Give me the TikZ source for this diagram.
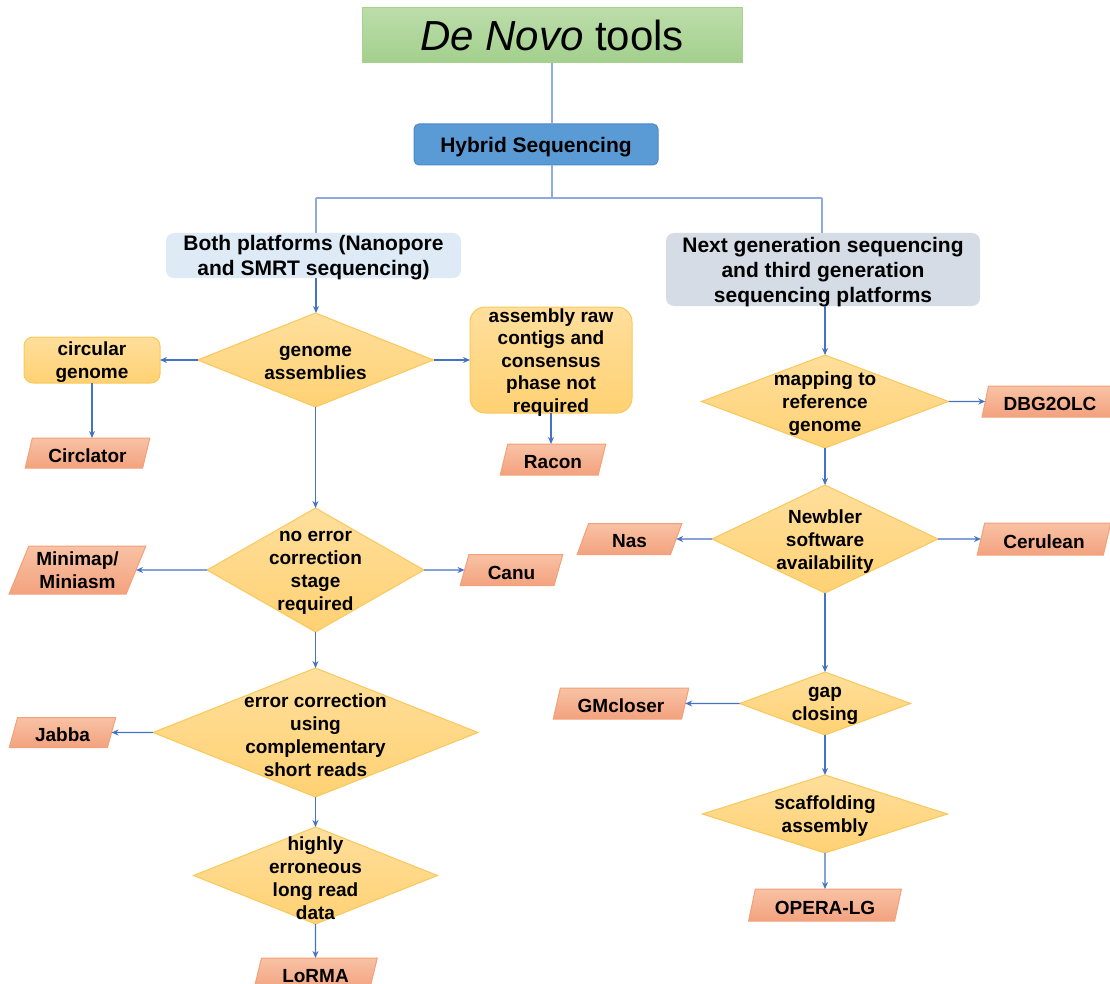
\documentclass[tikz,border=0pt]{standalone}
\usepackage{fontspec}
\setmainfont{Liberation Sans}
\usetikzlibrary{shapes.geometric,arrows.meta}
\definecolor{treeblue}{HTML}{8FAADC}
\definecolor{arrowblue}{HTML}{4472C4}
\definecolor{titletop}{HTML}{BCDDAA}
\definecolor{titlebot}{HTML}{A3CF8D}
\definecolor{titleborder}{HTML}{A9D18E}
\definecolor{hybfill}{HTML}{5B9BD5}
\definecolor{hybborder}{HTML}{4A89C8}
\definecolor{platone}{HTML}{DEEBF7}
\definecolor{plattwo}{HTML}{D6DCE5}
\definecolor{diatop}{HTML}{FFDF9C}
\definecolor{diabot}{HTML}{FFD173}
\definecolor{diaborder}{HTML}{F9C85A}
\definecolor{tooltop}{HTML}{F8C2A5}
\definecolor{toolbot}{HTML}{F3A27E}
\definecolor{toolborder}{HTML}{F2A179}
\newcommand{\lowertext}[1]{\raisebox{-2.5pt}[\height][\depth]{#1}}
\tikzset{
  conn/.style={draw=arrowblue, line width=1.3pt, -{Stealth[length=7pt,width=6pt]}},
  treeline/.style={draw=treeblue, line width=1.2pt},
  txt/.style={font=\bfseries\fontsize{19}{23}\selectfont, align=center, text=black, inner sep=0pt, yshift=-2.5pt},
  txtr/.style={font=\bfseries\fontsize{19}{22.5}\selectfont, align=center, text=black, inner sep=0pt, yshift=-2.5pt},
  bigtxt/.style={font=\bfseries\fontsize{21}{25}\selectfont, align=center, text=black, inner sep=0pt, yshift=-2.5pt},
  dia/.style={diamond, draw=diaborder, line width=1pt, top color=diatop, bottom color=diabot, inner sep=0pt, outer sep=0pt},
  toolbox/.style={trapezium, trapezium left angle=70, trapezium right angle=110, trapezium stretches=true,
    draw=toolborder, line width=1pt, top color=tooltop, bottom color=toolbot, inner sep=0pt, outer sep=0pt,
    font=\bfseries\fontsize{19}{23}\selectfont, align=center, text=black},
  rbox/.style={rectangle, rounded corners=9pt, draw=diaborder, line width=1pt, top color=diatop, bottom color=diabot,
    inner sep=0pt, outer sep=0pt},
  platbox/.style={rectangle, rounded corners=8pt, inner sep=0pt, outer sep=0pt},
}
\begin{document}
\begin{tikzpicture}[x=1pt,y=-1pt]
\useasboundingbox (0,0) rectangle (1110,984);
% title and top
\node[rectangle, draw=titleborder, line width=1pt, top color=titletop, bottom color=titlebot,
  minimum width=380pt, minimum height=55pt, inner sep=0pt, outer sep=0pt,
  font=\fontsize{42}{50}\selectfont] (title) at (552,35.5) {\textit{De Novo} tools};
\node[rectangle, rounded corners=5pt, draw=hybborder, line width=1pt, fill=hybfill,
  minimum width=244pt, minimum height=41pt, inner sep=0pt, outer sep=0pt,
  label={[bigtxt]center:Hybrid Sequencing}] (hyb) at (536,144.5) {};
\node[platbox, fill=platone, minimum width=295pt, minimum height=45pt,
  label={[bigtxt]center:{Both platforms (Nanopore\\and SMRT sequencing)}}] (platA) at (313.5,255.5) {};
\node[platbox, fill=plattwo, minimum width=314pt, minimum height=73pt,
  label={[bigtxt]center:{Next generation sequencing\\and third generation\\sequencing platforms}}] (platB) at (823,269.5) {};
\coordinate (j) at (552,198);
\coordinate (jl) at (316,198);
\coordinate (jr) at (822,198);
\draw[treeline] (title.south) -- (title.south |- hyb.north);
\draw[treeline] (hyb.south -| j) -- (j);
\draw[treeline] (jl) -- (jr);
\draw[treeline] (jl) -- (jl |- platA.north);
\draw[treeline] (jr) -- (jr |- platB.north);

% left column
\node[dia, minimum width=236pt, minimum height=94pt, label={[txt]center:{genome\\assemblies}}] (d1) at (315.5,360) {};
\node[rbox, minimum width=136pt, minimum height=46pt, label={[txt]center:{circular\\genome}}] (circ) at (92,360) {};
\node[rbox, rounded corners=15pt, minimum width=162pt, minimum height=106pt,
  label={[txtr]center:{assembly raw\\contigs and\\consensus\\phase not\\required}}] (raw) at (551,360) {};
\node[toolbox, minimum width=125pt, minimum height=30pt] (circlator) at (87.5,453) {\lowertext{Circlator}};
\node[toolbox, minimum width=106pt, minimum height=31pt] (racon) at (553,459.5) {\lowertext{Racon}};
\node[dia, minimum width=217pt, minimum height=124pt, label={[txt]center:{no error\\correction\\stage\\required}}] (d2) at (315.5,570) {};
\node[toolbox, minimum width=137pt, minimum height=48pt] (minimap) at (77.5,570)
  {\lowertext{\begin{tabular}{@{}c@{}}Minimap/\\Miniasm\end{tabular}}};
\node[toolbox, minimum width=103pt, minimum height=31pt] (canu) at (511.5,570) {\lowertext{Canu}};
\node[dia, minimum width=325pt, minimum height=129pt, label={[txt]center:{error correction\\using\\complementary\\short reads}}] (d3) at (315.5,732.5) {};
\node[toolbox, minimum width=107pt, minimum height=30pt] (jabba) at (62.5,732.5) {\lowertext{Jabba}};
\node[dia, minimum width=244pt, minimum height=97pt, label={[txt]center:{highly\\erroneous\\long read\\data}}] (d4) at (315.5,875.5) {};
\node[toolbox, minimum width=124pt, minimum height=32pt] (lorma) at (315.5,974) {\lowertext{LoRMA}};

\draw[conn] (platA.south -| jl) -- (d1.north -| jl);
\draw[conn] (d1.west) -- (circ.east);
\draw[conn] (d1.east) -- (raw.west);
\draw[conn] (circ.south) -- (circ.south |- circlator.north);
\draw[conn] (raw.south) -- (raw.south |- racon.north);
\draw[conn] (d1.south) -- (d2.north);
\draw[conn] (d2.west) -- (minimap.east);
\draw[conn] (d2.east) -- (canu.west);
\draw[conn] (d2.south) -- (d3.north);
\draw[conn] (d3.west) -- (jabba.east);
\draw[conn] (d3.south) -- (d4.north);
\draw[conn] (d4.south) -- (lorma.north);

% right column
\node[dia, minimum width=247pt, minimum height=93pt, label={[txt]center:{mapping to\\reference\\genome}}] (d5) at (825,401.5) {};
\node[toolbox, minimum width=136pt, minimum height=31pt] (dbg) at (1050,401.5) {\lowertext{DBG2OLC}};
\node[dia, minimum width=226pt, minimum height=108pt, label={[txt]center:{Newbler\\software\\availability}}] (d6) at (825,539) {};
\node[toolbox, minimum width=105pt, minimum height=31pt] (nas) at (629.5,539) {\lowertext{Nas}};
\node[toolbox, minimum width=134pt, minimum height=32pt] (cerulean) at (1044,539) {\lowertext{Cerulean}};
\node[dia, minimum width=171pt, minimum height=63pt, label={[txt]center:{gap\\closing}}] (d7) at (825,703.5) {};
\node[toolbox, minimum width=136pt, minimum height=31pt] (gm) at (621,703.5) {\lowertext{GMcloser}};
\node[dia, minimum width=245pt, minimum height=78pt, label={[txt]center:{scaffolding\\assembly}}] (d8) at (825,814) {};
\node[toolbox, minimum width=153pt, minimum height=32pt] (opera) at (825,905) {\lowertext{OPERA-LG}};

\draw[conn] (platB.south -| d5.north) -- (d5.north);
\draw[conn] (d5.east) -- (dbg.west);
\draw[conn] (d5.south) -- (d6.north);
\draw[conn] (d6.west) -- (nas.east);
\draw[conn] (d6.east) -- (cerulean.west);
\draw[conn] (d6.south) -- (d7.north);
\draw[conn] (d7.west) -- (gm.east);
\draw[conn] (d7.south) -- (d8.north);
\draw[conn] (d8.south) -- (opera.north);
\end{tikzpicture}
\end{document}
